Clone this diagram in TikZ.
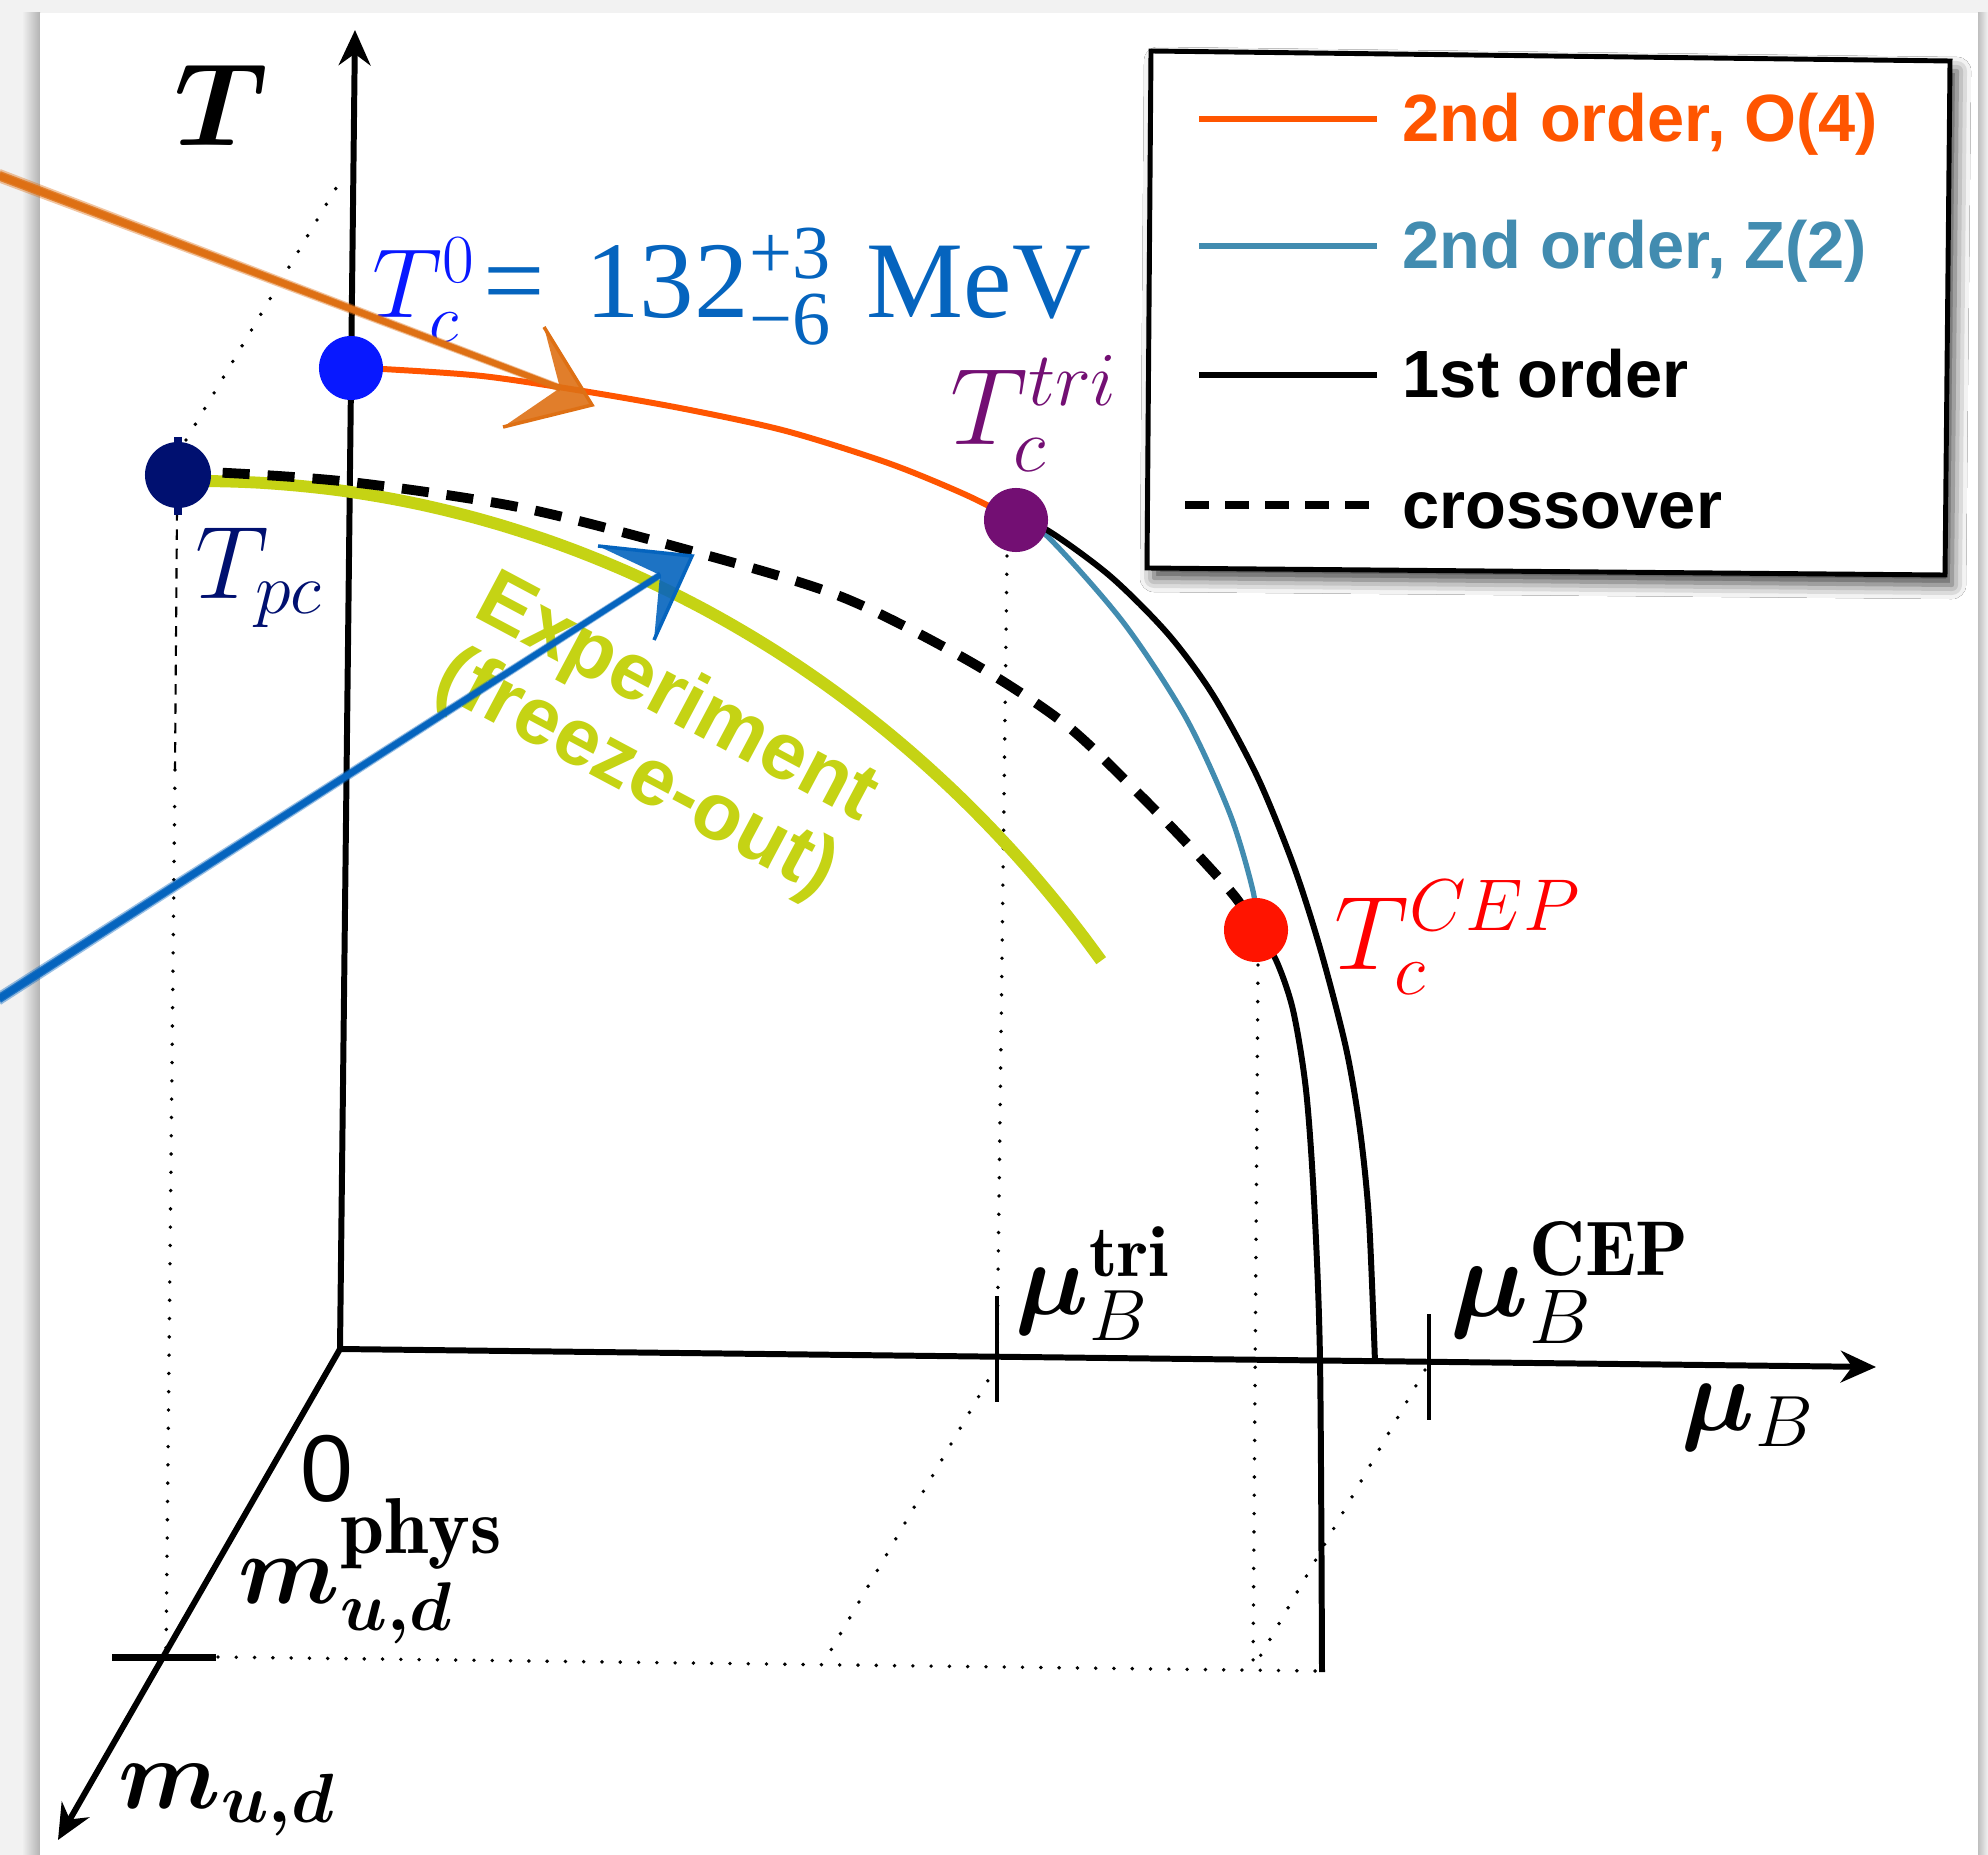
\RequirePackage{fix-cm}
\documentclass[tikz,border=0pt]{standalone}
\usepackage{amsmath}
\usepackage{bm}
\usepackage{fontspec}
\newfontfamily\helv{Liberation Sans}
\newfontfamily\tms{Liberation Serif}
\usetikzlibrary{arrows.meta,calc,shadows.blur}
\definecolor{fond}{RGB}{242,242,242}
\definecolor{ordreO}{RGB}{255,85,0}
\definecolor{ordreZ}{RGB}{66,140,176}
\definecolor{exper}{RGB}{197,211,20}
\definecolor{bleuT}{RGB}{8,24,255}
\definecolor{bleuval}{RGB}{5,100,190}
\definecolor{marine}{RGB}{0,16,112}
\definecolor{pourpre}{RGB}{115,15,115}
\definecolor{rougeCEP}{RGB}{255,20,0}
\definecolor{flecheO}{RGB}{222,112,20}
\definecolor{flecheB}{RGB}{5,100,190}
\newcommand{\Fleche}[6]{%
	\foreach \d/\o in {-5/0.4,-3/0.8,-1.5/1,0/1,1.5/1,3/0.8,5/0.4}{%
		\draw[#1,line width=1.1pt,opacity=\o] ($(#2)+(0,\d)$) -- ($(#3)+(0,\d*0.4)$);
	}%
	\fill[#1,opacity=0.9] (#4) -- (#5) -- (#3) -- (#6) -- cycle;
	\draw[#1,line width=1pt] (#5) -- (#4) -- (#6);
}
\newcommand{\Taille}[1]{\fontsize{#1}{#1}\selectfont}

\begin{document}
\begin{tikzpicture}[x=0.01cm,y=-0.01cm,
	axe/.style={line width=1.7pt},
	pointille/.style={line width=1.1pt,dash pattern=on 0pt off 5.2pt,line cap=round},
	point/.style={circle,inner sep=0pt,minimum size=0.64cm},
	etiq/.style={anchor=base west,inner sep=0pt},
	leg/.style={font=\helv\bfseries\Taille{19},anchor=base west,inner sep=0pt}]
	
	\useasboundingbox (0,0) rectangle (1988,1855);
	
	% fond de page
	\fill[fond] (0,0) rectangle (1988,1855);
	\shade[left color=fond,right color=gray!60] (22,13) rectangle (40,1855);
	\shade[left color=gray!50,right color=fond] (1978,13) rectangle (1988,1855);
	\fill[white] (40,13) rectangle (1978,1855);
	
	% points de repere
	\coordinate (O) at (340,1349);
	\coordinate (Ttop) at (355,30);
	\coordinate (muend) at (1876,1367);
	\coordinate (mend) at (58,1840);
	\coordinate (pTc0) at (351,368);
	\coordinate (pTpc) at (178,475);
	\coordinate (pTri) at (1016,520);
	\coordinate (pCEP) at (1256,930);
	
	% lignes pointillees (projections)
	\draw[pointille] (186,440) -- (345,173);
	\draw[line width=0.6pt,dash pattern=on 3pt off 2.5pt] (177,510) -- (175,770);
	\draw[pointille] (175,770) -- (166,1655);
	\draw[pointille] (218,1657) -- (1318,1671);
	\draw[pointille] (1007,556) -- (997,1360);
	\draw[pointille] (997,1365) -- (824,1662);
	\draw[pointille] (1258,965) -- (1253,1668);
	\draw[pointille] (1425,1370) -- (1254,1667);
	
	% axes
	\draw[axe,-{Stealth[length=10pt,width=9pt]}] (O) -- (Ttop);
	\draw[axe,-{Stealth[length=10pt,width=9pt]}] (O) -- (muend);
	\draw[axe,-{Stealth[length=10pt,width=9pt]}] (O) -- (mend);
	\draw[line width=2pt] (112,1657) -- (216,1657);
	\draw[line width=1.3pt] (997,1296) -- (997,1402);
	\draw[line width=1.3pt] (1429,1314) -- (1429,1420);
	
	% courbes
	\draw[exper,line width=3.4pt] plot[domain=-1.1:51.6,samples=40,smooth] ({200+1150*sin(\x)},{481+1266*(1-cos(\x))});
	\draw[line width=2.8pt,dash pattern=on 7.7pt off 5.1pt] plot[smooth] coordinates {(178,475) (207,472) (350,482) (523,508) (695,552) (842,597) (969,661) (1065,724) (1140,795) (1196,853) (1236,898) (1256,930)};
	\draw[ordreO,line width=1.7pt] plot[smooth] coordinates {(351,368) (383,369) (482,376) (583,391) (685,409) (786,431) (888,463) (964,494) (1016,520)};
	\draw[ordreZ,line width=1.5pt] plot[smooth] coordinates {(1016,520) (1047,536) (1123,622) (1186,718) (1230,814) (1253,891) (1257,930)};
	\draw[line width=1.7pt] plot[smooth] coordinates {(1016,520) (1047,530) (1110,576) (1168,634) (1213,695) (1257,776) (1293,864) (1320,948) (1346,1048) (1360,1130) (1369,1220) (1375,1362)};
	\draw[line width=1.7pt] plot[smooth] coordinates {(1257,930) (1276,960) (1293,1010) (1306,1090) (1314,1200) (1320,1360) (1322,1672)};
	
	% points critiques
	\draw[marine,line width=2.5pt] (178,437) -- (178,515);
	\node[point,fill=bleuT] (Tc0) at (pTc0) {};
	\node[point,fill=marine,minimum size=0.66cm] (Tpc) at (pTpc) {};
	\node[point,fill=pourpre] (Tri) at (pTri) {};
	\node[point,fill=rougeCEP] (CEP) at (pCEP) {};
	
	% etiquettes
	\node[font=\Taille{33.5}] (labT) at (221,105) {$\bm{T}$};
	\node[font=\Taille{29.5}] (labmu) at (1748,1418) {$\bm{\mu}_{B}$};
	\node[etiq,font=\Taille{29.5}] (labtri) at (1015,1314) {$\bm{\mu}_B^{\mathbf{tri}}$};
	\node[etiq,font=\Taille{31.5}] (labcepmu) at (1450,1316) {$\bm{\mu}_B^{\mathbf{CEP}}$};
	\node[font=\helv\Taille{27}] (lab0) at (327,1469) {0};
	\node[etiq,font=\Taille{28}] (labphys) at (238,1603) {$\bm{m}_{\bm{u,d}}^{\scalebox{1.15}{$\scriptstyle\mathbf{phys}$}}$};
	\node[etiq,font=\Taille{28.3}] (labm) at (118,1808) {$\bm{m}_{\bm{u,d}}$};
	\node[etiq,font=\Taille{31},text=bleuval] (labTc0) at (372,318)
		{\textcolor{bleuT}{\Taille{28}$T_c^{0}$}\hspace{0.08cm}{\tms =}\hspace{0.4cm}{\tms 132}$^{\text{\tms +3}}_{\text{\tms −6}}$\hspace{0.35cm}{\tms MeV}};
	\node[etiq,font=\Taille{29.4},text=marine] (labTpc) at (195,598) {$T_{pc}$};
	\node[etiq,font=\Taille{31},text=pourpre] (labTri) at (950,445) {$T_c^{tri}$};
	\node[etiq,font=\Taille{29.8},text=red] (labCEP) at (1334,969) {$T_c^{CEP}$};
	\node[rotate=-28,font=\helv\bfseries\fontsize{23}{24}\selectfont,text=exper,align=center] (labexp) at (656,738) {Experiment\\(freeze-out)};
	
	% legende
	\draw[line width=1.4pt,fill=white,blur shadow={shadow xshift=0.07cm,shadow yshift=-0.1cm,shadow blur radius=0.14cm,shadow opacity=75}]
		(1151,51) -- (1950,61) -- (1945,575) -- (1147,568) -- cycle;
	\foreach \yl/\col/\txt [count=\i] in {119/ordreO/{2nd order, O(4)},246/ordreZ/{2nd order, Z(2)},375/black/{1st order}}{
		\draw[\col,line width=1.5pt] (1199,\yl) -- (1377,\yl);
		\node[leg,text=\col] (leg\i) at (1402,\yl+23) {\txt};
	}
	\draw[line width=2.3pt,dash pattern=on 6.8pt off 4.6pt] (1185,505) -- (1369,505);
	\node[leg] (leg4) at (1402,528) {crossover};
	
	% fleches dessinees a la main
	\coordinate (oA) at (0,176);
	\coordinate (oN) at (560,388);
	\coordinate (oT) at (592,405);
	\coordinate (oW1) at (544,327);
	\coordinate (oW2) at (503,427);
	\Fleche{flecheO}{oA}{oN}{oT}{oW1}{oW2}
	\coordinate (bA) at (0,998);
	\coordinate (bN) at (660,575);
	\coordinate (bT) at (692,556);
	\coordinate (bW1) at (598,546);
	\coordinate (bW2) at (654,640);
	\Fleche{flecheB}{bA}{bN}{bT}{bW1}{bW2}
	
\end{tikzpicture}
\end{document}
